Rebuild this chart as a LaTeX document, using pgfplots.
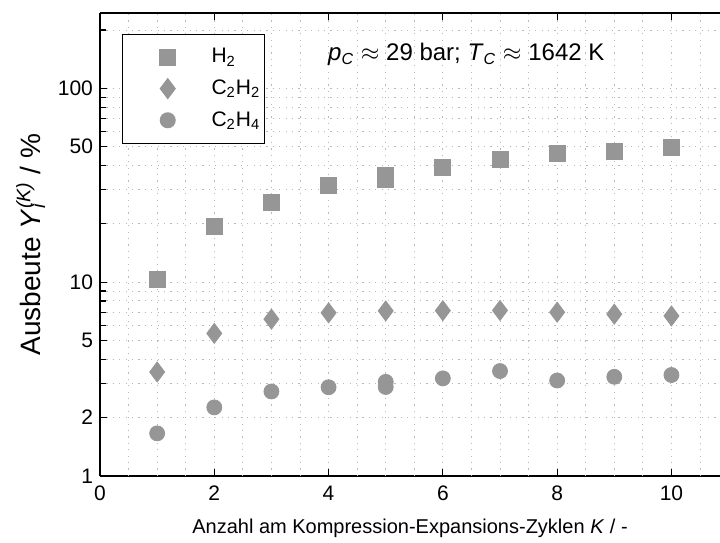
\documentclass[border=0pt]{standalone}
\usepackage{fontspec}
\setmainfont{Liberation Sans}
\usepackage{pgfplots}
\pgfplotsset{compat=1.18}

\definecolor{markgray}{RGB}{150,150,150}
\definecolor{gridgray}{RGB}{185,185,185}

\begin{document}
\begin{tikzpicture}
\begin{axis}[
    scale only axis,
    width=310pt, height=231.5pt,
    ymode=log,
    xmin=0, xmax=10.85,
    ymin=1, ymax=245,
    axis x line*=box,
    axis y line*=left,
    axis line style={line width=0.6pt},
    font=\fontsize{10.5pt}{12.5pt}\selectfont,
    /pgf/number format/assume math mode=true,
    xticklabel style={yshift=-1.5pt},
    xtick={0,2,4,6,8,10},
    extra x ticks={0.5,1,1.5,2.5,3,3.5,4.5,5,5.5,6.5,7,7.5,8.5,9,9.5,10.5},
    extra x tick labels={},
    extra x tick style={major tick length=0pt, grid=major},
    ytick={1,2,5,10,50,100},
    yticklabels={1,2,5,10,50,100},
    minor ytick={3,4,6,7,8,9,20,30,40,60,70,80,90,200},
    major tick length=3.5pt,
    minor tick length=3pt,
    tick style={black, line width=0.6pt},
    grid=both,
    major grid style={gridgray, line width=0.5pt, dash pattern=on 0.6pt off 2.6pt},
    minor grid style={gridgray, line width=0.5pt, dash pattern=on 0.6pt off 2.6pt},
    xlabel={Anzahl am Kompression-Expansions-Zyklen \textit{K} / -},
    ylabel={Ausbeute \textit{Y}\rlap{\textsubscript{\textit{i}}}\textsuperscript{\textit{(K)}} / \%},
    xlabel style={at={(axis description cs:0.5,-0.112)}, anchor=center, font=\fontsize{10pt}{12pt}\selectfont},
    ylabel style={at={(axis description cs:-0.112,0.5)}, anchor=center, font=\fontsize{14pt}{16pt}\selectfont},
    legend style={at={(axis description cs:0.035,0.955)}, anchor=north west,
        draw=black, line width=0.5pt, fill=white, inner xsep=0pt, inner ysep=5pt,
        row sep=3pt, cells={anchor=west}, font=\fontsize{10.5pt}{12.5pt}\selectfont},
    legend image code/.code={\path[draw=none] (0,0) -- (1.5cm,0); \draw[#1] plot[only marks] coordinates {(0.8cm,0cm)};},
]

% H2
\addplot[only marks, mark=square*, mark size=4pt, color=markgray] coordinates {
    (1,10.4) (2,19.3) (3,25.9) (4,31.6) (5,34.1) (5,35.6) (6,39.2) (7,43.1) (8,46.2) (9,47.4) (10,49.6)
};
% C2H2
\addplot[only marks, mark=diamond*, mark size=5pt, color=markgray] coordinates {
    (1,3.44) (2,5.44) (3,6.45) (4,6.95) (5,7.11) (6,7.13) (7,7.15) (8,7.0) (9,6.84) (10,6.7)
};
% C2H4
\addplot[only marks, mark=*, mark size=3.75pt, color=markgray] coordinates {
    (1,1.66) (2,2.26) (3,2.73) (4,2.87) (5,2.88) (5,3.06) (6,3.19) (7,3.48) (8,3.11) (9,3.25) (10,3.32)
};
\legend{H\textsubscript{2}, C\textsubscript{2}H\textsubscript{2}, C\textsubscript{2}H\textsubscript{4}}

\node[anchor=west, font=\fontsize{12pt}{14pt}\selectfont] at (axis cs:3.87,150)
    {\textit{p}\textsubscript{\textit{C}} $\approx$ 29 bar; \textit{T}\textsubscript{\textit{C}} $\approx$ 1642 K};
\end{axis}
\pgfresetboundingbox
\path ([xshift=-50pt,yshift=-33.5pt]current axis.south west) rectangle ([yshift=6.5pt]current axis.north east);
\end{tikzpicture}
\end{document}
